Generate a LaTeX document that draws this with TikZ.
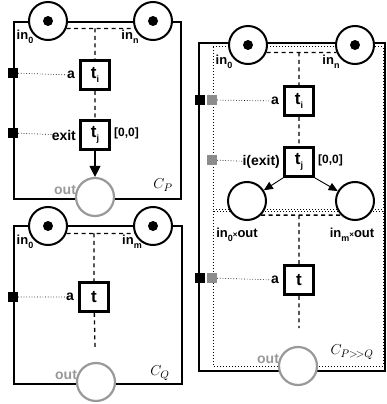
\documentclass[tikz,border=0pt]{standalone}
\usepackage{fontspec}
\setsansfont{Liberation Sans}
\usepackage{tikz}
\usetikzlibrary{arrows.meta, calc, positioning}

\definecolor{outgray}{gray}{0.6}
\definecolor{portgray}{gray}{0.55}
\newcommand{\lsub}[1]{\raisebox{-0.5ex}{\fontsize{9}{9}\selectfont #1}}

\tikzset{
    place/.style={circle, draw, fill=white, line width=2pt, minimum size=38pt, inner sep=0pt},
    outplace/.style={place, draw=outgray, line width=2.2pt},
    trans/.style={draw, fill=white, line width=2.8pt, minimum size=29pt, inner sep=0pt,
        font=\sffamily\bfseries\fontsize{17}{17}\selectfont},
    port/.style={fill=black, minimum size=10pt, inner sep=0pt},
    gport/.style={port, fill=portgray},
    lbl/.style={inner sep=0pt, font=\sffamily\bfseries\fontsize{14}{14}\selectfont},
    inlbl/.style={inner sep=0pt, font=\sffamily\bfseries\fontsize{13}{13}\selectfont},
    dly/.style={inner sep=0pt, font=\sffamily\bfseries\fontsize{12}{12}\selectfont},
    comp/.style={inner sep=0pt, font=\fontsize{15}{15}\selectfont},
    link/.style={line width=1.3pt, dash pattern=on 4pt off 3.5pt},
    tie/.style={line width=0.7pt, dotted},
    frame/.style={line width=1.5pt},
    part/.style={line width=1pt, dotted},
    flow/.style={-{Triangle[length=11pt, width=11pt]}, line width=1.1pt},
    split/.style={-{Triangle[length=9pt, width=8pt]}, line width=0.9pt}
}

\begin{document}
\begin{tikzpicture}[x=1pt, y=-1pt]
    \useasboundingbox (0, 0) rectangle (386, 404);

    \draw[frame] (14, 22) rectangle (181, 199);
    \draw[frame] (14, 226) rectangle (182, 384);
    \draw[frame] (199, 43) rectangle (385, 371);
    \draw[part] (213, 47) rectangle (383, 209);
    \draw[part] (213, 211) rectangle (383, 366);

    \node[place] (p0) at (48, 21) {};
    \node[place] (pn) at (153, 21) {};
    \node[trans] (ti) at (95, 75) {t\lsub{i}};
    \node[trans] (tj) at (95, 135) {t\lsub{j}};
    \node[outplace] (pout) at (95, 197) {};
    \node[port] (pa) at (13, 73) {};
    \node[port] (px) at (13, 133) {};
    \node[lbl, left=4pt of ti] (la) {a};
    \node[lbl, left=3pt of tj] (lx) {exit};
    \node[dly, right=3pt of tj, yshift=2pt] (dj) {[0,0]};

    \node[place] (q0) at (48, 226) {};
    \node[place] (qm) at (153, 226) {};
    \node[trans] (qt) at (94, 297) {t};
    \node[outplace] (qout) at (96, 382) {};
    \node[port] (qa) at (13, 297) {};
    \node[lbl, left=4pt of qt] (qla) {a};
    \coordinate (qend) at (95, 347);

    \node[place] (r0) at (248, 45) {};
    \node[place] (rn) at (355, 45) {};
    \node[trans] (rti) at (299, 101) {t\lsub{i}};
    \node[trans] (rtj) at (299, 162) {t\lsub{j}};
    \node[place] (m0) at (247, 201) {};
    \node[place] (mm) at (355, 201) {};
    \node[trans] (rt) at (299, 280) {t};
    \node[outplace] (rout) at (298, 366) {};
    \node[port] (ra) at (200, 100) {};
    \node[port] (rb) at (200, 278) {};
    \node[gport] (ga) at (212, 100) {};
    \node[gport] (gx) at (212, 160) {};
    \node[gport] (gb) at (212, 278) {};
    \node[lbl, left=4pt of rti] (rla) {a};
    \node[lbl, left=3pt of rtj] (rlx) {i(exit)};
    \node[dly, right=3pt of rtj, yshift=2pt] (rdj) {[0,0]};
    \node[lbl, left=4pt of rt] (rlb) {a};
    \coordinate (rend) at (299, 328);

    \foreach \p in {p0, pn, q0, qm, r0, rn} {
        \fill (\p) circle (5);
    }

    \node[inlbl] () at ($(p0) + (-23, 16)$) {in\lsub{0}};
    \node[inlbl] () at ($(pn) + (-23, 16)$) {in\lsub{n}};
    \node[inlbl] () at ($(q0) + (-23, 16)$) {in\lsub{0}};
    \node[inlbl] () at ($(qm) + (-21, 16)$) {in\lsub{m}};
    \node[inlbl] () at ($(r0) + (-24, 17)$) {in\lsub{0}};
    \node[inlbl] () at ($(rn) + (-24, 17)$) {in\lsub{n}};
    \node[inlbl] () at ($(m0) + (-10, 34)$) {in\lsub{0}{\fontsize{8}{8}\selectfont ×}out};
    \node[inlbl] () at ($(mm) + (-3, 34)$) {in\lsub{m}{\fontsize{8}{8}\selectfont ×}out};

    \node[lbl, text=outgray, anchor=east] () at (pout.160) {out};
    \node[lbl, text=outgray, anchor=east] () at (qout.160) {out};
    \node[lbl, text=outgray, anchor=east] () at (rout.160) {out};

    \node[comp] () at (163, 185) {$C_P$};
    \node[comp] () at (160, 373) {$C_Q$};
    \node[comp] () at (352, 352) {$C_{P>\!>Q}$};

    \draw[link]
    (p0.-22) -- (pn.202)
    (ti |- p0.-22) -- (ti)
    (ti) -- (tj)
    (q0.-22) -- (qm.202)
    (qt |- q0.-22) -- (qt)
    (qt) -- (qend)
    (r0.-22) -- (rn.202)
    (rti |- r0.-22) -- (rti)
    (rti) -- (rtj)
    (m0.-45) -- (mm.225)
    (rt |- m0.-45) -- (rt)
    (rt) -- (rend);

    \draw[tie]
    (pa) -- (la)
    (px) -- (lx)
    (qa) -- (qla)
    (ga) -- (rla)
    (gx) -- (rlx)
    (gb) -- (rlb);

    \draw[flow] (tj) -- (pout);
    \draw[split] (rtj.south west) -- (m0);
    \draw[split] (rtj.south east) -- (mm);
\end{tikzpicture}
\end{document}
